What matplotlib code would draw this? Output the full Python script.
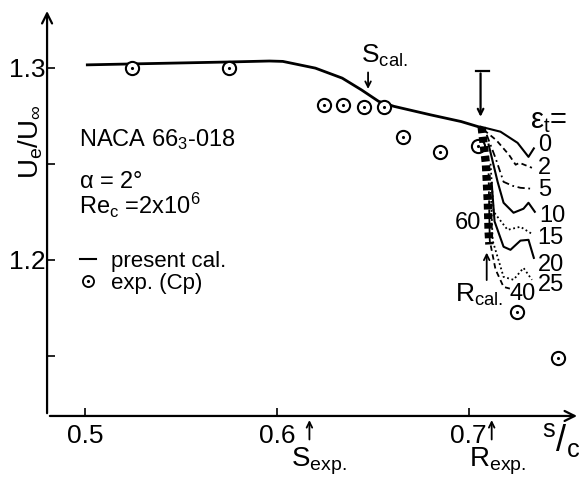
import matplotlib
matplotlib.use('Agg')
import matplotlib.pyplot as plt
from matplotlib.lines import Line2D
from matplotlib.legend_handler import HandlerTuple

plt.rcParams['font.family'] = ['Liberation Sans', 'DejaVu Sans']
plt.rcParams['mathtext.default'] = 'regular'

# present calculation (solid line)
cal_s = [0.501, 0.525, 0.550, 0.575, 0.596, 0.603, 0.620, 0.634, 0.644, 0.653, 0.661, 0.680, 0.696, 0.706]
cal_u = [1.3015, 1.3020, 1.3025, 1.3030, 1.3035, 1.3033, 1.2998, 1.2946, 1.2885, 1.2825, 1.2799, 1.2755, 1.2720, 1.2690]

# experiment (Cp)
exp_s = [0.5244, 0.5748, 0.6245, 0.6344, 0.6453, 0.6560, 0.6659, 0.6849, 0.7050, 0.7253, 0.7468]
exp_u = [1.3000, 1.3000, 1.2804, 1.2804, 1.2798, 1.2798, 1.2639, 1.2559, 1.2590, 1.1730, 1.1490]

# transition curves for each eps_t
eps0_s = [0.7062, 0.7166, 0.7255, 0.7312, 0.7340]
eps0_u = [1.2693, 1.2667, 1.2609, 1.2536, 1.2580]
eps2_s = [0.7078, 0.7145, 0.7210, 0.7245, 0.7265, 0.7330]
eps2_u = [1.2677, 1.2622, 1.2547, 1.2495, 1.2505, 1.2479]
eps5_s = [0.7094, 0.7140, 0.7182, 0.7230, 0.7270, 0.7330]
eps5_u = [1.2651, 1.2530, 1.2406, 1.2385, 1.2375, 1.2370]
eps10_s = [0.7104, 0.7151, 0.7182, 0.7234, 0.7286, 0.7312, 0.7345]
eps10_u = [1.2600, 1.2406, 1.2297, 1.2245, 1.2266, 1.2297, 1.2250]
eps15_s = [0.7114, 0.7130, 0.7203, 0.7270, 0.7330]
eps15_u = [1.2500, 1.2250, 1.2156, 1.2172, 1.2135]
eps20_s = [0.7120, 0.7135, 0.7182, 0.7218, 0.7270, 0.7312, 0.7340]
eps20_u = [1.2400, 1.2200, 1.2068, 1.2052, 1.2100, 1.2104, 1.2010]
eps25_s = [0.7114, 0.7125, 0.7182, 0.7234, 0.7286, 0.7330]
eps25_u = [1.2400, 1.2100, 1.1911, 1.1896, 1.1958, 1.1896]
eps40_s = [0.7104, 0.7110, 0.7140, 0.7182, 0.7215]
eps40_u = [1.2450, 1.2100, 1.1950, 1.1859, 1.1850]
eps60_s = [0.7068, 0.7090, 0.7100, 0.7104, 0.7108]
eps60_u = [1.2690, 1.2500, 1.2300, 1.2150, 1.2080]

eps_labels = ['0', '2', '5', '10', '15', '20', '25', '40', '60']
eps_label_s = [0.7360, 0.7360, 0.7360, 0.7368, 0.7360, 0.7360, 0.7362, 0.7215, 0.6995]
eps_label_u = [1.2599, 1.2479, 1.2365, 1.2229, 1.2115, 1.1974, 1.1870, 1.1823, 1.2193]

xticks = [0.5, 0.6, 0.7]
yticks = [1.15, 1.2, 1.25, 1.3]
ytick_labels = ['', '1.2', '', '1.3']

fig = plt.figure(figsize=(5.81, 4.82), dpi=100)
ax = fig.add_axes([0.081, 0.137, 0.917, 0.846])
ax.set_xlim(0.48, 0.758)
ax.set_ylim(1.1187, 1.331)

for side in ['top', 'right', 'left', 'bottom']:
    ax.spines[side].set_visible(False)
# axes drawn as arrows
ax.annotate('', xy=(1.0, 0), xytext=(0, 0), xycoords='axes fraction',
            arrowprops=dict(arrowstyle='->', lw=1.6, color='black', mutation_scale=18))
ax.annotate('', xy=(0, 1.0), xytext=(0, 0), xycoords='axes fraction',
            arrowprops=dict(arrowstyle='->', lw=1.6, color='black', mutation_scale=18))

ax.set_xticks(xticks)
ax.set_xticklabels(['0.5', '0.6', '0.7'])
ax.set_yticks(yticks)
ax.set_yticklabels(ytick_labels)
ax.tick_params(direction='in', length=6, width=1.2, labelsize=19)
ax.tick_params(axis='x', pad=6)
ax.tick_params(axis='y', pad=1)

# main curve and experiment
ax.plot(cal_s, cal_u, color='black', lw=2)
ax.plot(exp_s, exp_u, 'o', ms=9.5, mfc='white', mec='black', mew=1.5)
ax.plot(exp_s, exp_u, '.', ms=2.5, color='black')

# fan of transition curves
ax.plot(eps0_s, eps0_u, color='black', lw=1.5)
ax.plot(eps2_s, eps2_u, color='black', lw=1.3, ls=(0, (3, 2)))
ax.plot(eps5_s, eps5_u, color='black', lw=1.3, ls=(0, (4, 2, 1, 2)))
ax.plot(eps10_s, eps10_u, color='black', lw=1.5)
ax.plot(eps15_s, eps15_u, color='black', lw=1.3, ls=(0, (1, 1.5)))
ax.plot(eps20_s, eps20_u, color='black', lw=1.5)
ax.plot(eps25_s, eps25_u, color='black', lw=1.3, ls=(0, (1, 1.5)))
ax.plot(eps40_s, eps40_u, color='black', lw=1.3, ls=(0, (3, 2)))
ax.plot(eps60_s, eps60_u, color='black', lw=6, ls=(0, (0.7, 0.45)))

for lab, xs, yu in zip(eps_labels, eps_label_s, eps_label_u):
    ax.text(xs, yu, lab, fontsize=17, ha='left' if lab != '60' else 'center', va='center')
ax.text(0.7416, 1.2724, r'$\epsilon_t$=', fontsize=21, ha='center', va='center')

# markers for separation, transition, reattachment
ax.annotate('', xy=(0.6475, 1.2875), xytext=(0.6475, 1.2990),
            arrowprops=dict(arrowstyle='->', lw=1.3, color='black'))
ax.text(0.6438, 1.3060, r'$S_{cal.}$', fontsize=19, ha='left', va='center')
ax.annotate('', xy=(0.7062, 1.2730), xytext=(0.7062, 1.2985),
            arrowprops=dict(arrowstyle='->', lw=1.6, color='black'))
ax.plot([0.7036, 0.7104], [1.2985, 1.2985], color='black', lw=1.6)
ax.annotate('', xy=(0.7094, 1.2052), xytext=(0.7094, 1.1880),
            arrowprops=dict(arrowstyle='->', lw=1.3, color='black'))
ax.text(0.6928, 1.1818, r'$R_{cal.}$', fontsize=19, ha='left', va='center')

ax.annotate('', xy=(0.6169, 1.1180), xytext=(0.6169, 1.1050), annotation_clip=False,
            arrowprops=dict(arrowstyle='->', lw=1.3, color='black'))
ax.text(0.6216, 1.0953, r'$S_{exp.}$', fontsize=20, ha='center', va='center')
ax.annotate('', xy=(0.7120, 1.1180), xytext=(0.7120, 1.1050), annotation_clip=False,
            arrowprops=dict(arrowstyle='->', lw=1.3, color='black'))
ax.text(0.7151, 1.0953, r'$R_{exp.}$', fontsize=20, ha='center', va='center')

# axis labels
ax.text(0.7482, 1.1060, r'$^{s}/_{c}$', fontsize=26, ha='center', va='center')
ax.text(0.4714, 1.2615, r'$U_e/U_\infty$', fontsize=20, rotation=90, ha='center', va='center')

# case description
ax.text(0.4969, 1.2625, r'NACA 66$_3$-018', fontsize=17, ha='left', va='center')
ax.text(0.4969, 1.2405, r'$\alpha$ = 2°', fontsize=17, ha='left', va='center')
ax.text(0.4969, 1.2283, r'Re$_c$ =2x10$^6$', fontsize=17, ha='left', va='center')

h_line = Line2D([], [], color='black', lw=1.5)
h_circ = Line2D([], [], ls='', marker='o', ms=8, mfc='white', mec='black', mew=1.3)
h_dot = Line2D([], [], ls='', marker='.', ms=2.5, color='black')
ax.legend([h_line, (h_circ, h_dot)], ['present cal.', 'exp. (Cp)'],
          handler_map={tuple: HandlerTuple(ndivide=1)},
          loc='upper left', bbox_to_anchor=(0.062, 0.405), frameon=False,
          borderpad=0, borderaxespad=0,
          fontsize=16, handlelength=0.7, handletextpad=0.7, labelspacing=0.05)

fig.savefig('out.png', dpi=100)
